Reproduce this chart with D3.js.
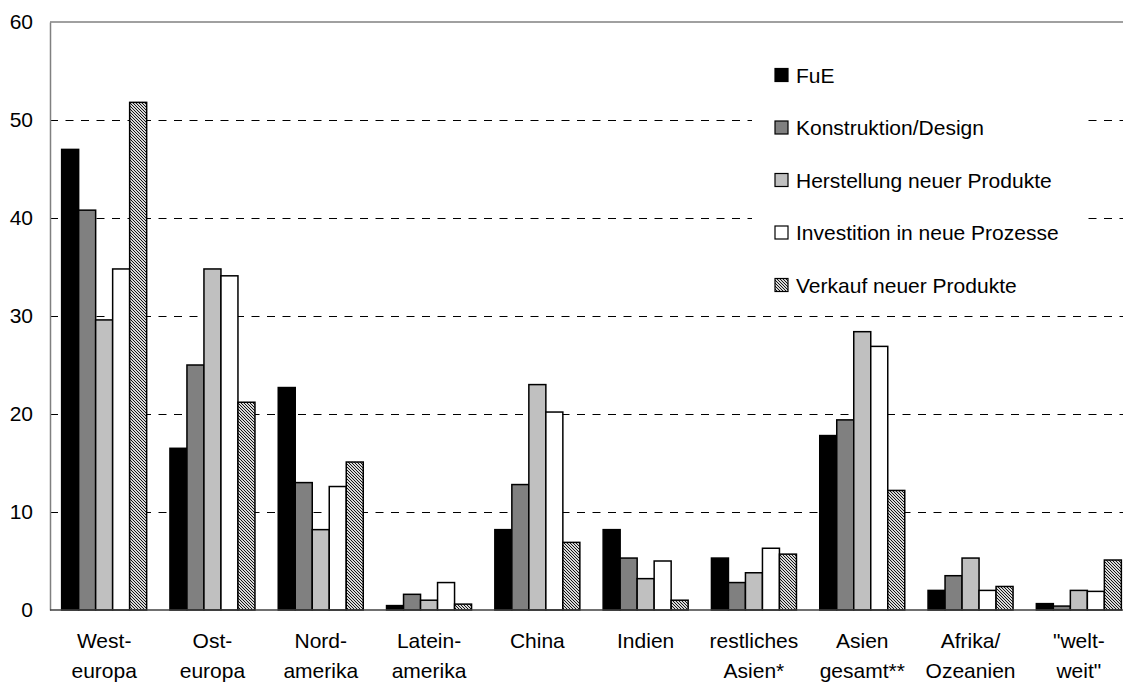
<!DOCTYPE html>
<html><head><meta charset="utf-8">
<script src="https://cdn.jsdelivr.net/npm/d3@7"></script>
<style>html,body{margin:0;padding:0;background:#fff;}svg{display:block;font-family:"Liberation Sans",Arial,sans-serif;}</style>
</head><body>
<svg id="c" width="1123" height="682"></svg>
<script>
const categories = [["West-","europa"],["Ost-","europa"],["Nord-","amerika"],["Latein-","amerika"],["China"],["Indien"],["restliches","Asien*"],["Asien","gesamt**"],["Afrika/","Ozeanien"],["\"welt-","weit\""]];
const seriesNames = ["FuE","Konstruktion/Design","Herstellung neuer Produkte","Investition in neue Prozesse","Verkauf neuer Produkte"];
const fue          = [47.0, 16.5, 22.7, 0.45, 8.2, 8.2, 5.3, 17.8, 2.0, 0.65];
const konstruktion = [40.8, 25.0, 13.0, 1.6, 12.8, 5.3, 2.8, 19.4, 3.5, 0.4];
const herstellung  = [29.6, 34.8, 8.2, 1.0, 23.0, 3.2, 3.8, 28.4, 5.3, 2.0];
const investition  = [34.8, 34.1, 12.6, 2.8, 20.2, 5.0, 6.3, 26.9, 2.0, 1.9];
const verkauf      = [51.8, 21.2, 15.1, 0.6, 6.9, 1.0, 5.7, 12.2, 2.4, 5.1];
const yTicks = [0,10,20,30,40,50,60];

const series = [fue, konstruktion, herstellung, investition, verkauf];
const fills = ["#000000","#808080","#c0c0c0","#ffffff","url(#hatch)"];

const svg = d3.select("#c");
const defs = svg.append("defs");
const pat = defs.append("pattern").attr("id","hatch").attr("patternUnits","userSpaceOnUse")
  .attr("width",3).attr("height",3);
pat.append("rect").attr("width",3).attr("height",3).attr("fill","#d8d8d8");
pat.append("path").attr("d","M-1,-1 L4,4 M-1,2 L1,4 M2,-1 L4,1").attr("stroke","#000").attr("stroke-width",0.9);

const L = 50, R = 1133, T = 22, B = 610;
const x0 = d3.scaleBand().domain(d3.range(categories.length)).range([L, R]).paddingInner(0.215).paddingOuter(0.1075);
const x1 = d3.scaleBand().domain(d3.range(series.length)).range([0, x0.bandwidth()]);
const y = d3.scaleLinear().domain([0,60]).range([B, T]);

// gridlines
svg.append("g").selectAll("line").data(yTicks.filter(d=>d>0 && d<60)).join("line")
  .attr("x1",L).attr("x2",1123).attr("y1",d=>Math.round(y(d))+0.5).attr("y2",d=>Math.round(y(d))+0.5)
  .attr("stroke","#000").attr("stroke-width",1).attr("stroke-dasharray","8,7.5");

// top border
svg.append("line").attr("x1",L).attr("x2",1123).attr("y1",y(60)).attr("y2",y(60)).attr("stroke","#808080").attr("stroke-width",1.5);

// legend background
svg.append("rect").attr("x",752).attr("y",48).attr("width",333).attr("height",258).attr("fill","#fff");

// bars
const g = svg.append("g");
categories.forEach((c,i)=>{
  series.forEach((s,j)=>{
    g.append("rect")
      .attr("x", x0(i)+x1(j)).attr("width", x1.bandwidth())
      .attr("y", y(s[i])).attr("height", y(0)-y(s[i]))
      .attr("fill", fills[j]).attr("stroke","#000").attr("stroke-width",1.5);
  });
});

// y axis
const yAxis = d3.axisLeft(y).tickValues(yTicks).tickSize(0).tickPadding(17);
const ya = svg.append("g").attr("transform",`translate(${L},0)`).call(yAxis);
ya.select(".domain").attr("stroke","#808080").attr("stroke-width",1.5);
ya.selectAll("text").attr("font-size",21).attr("fill","#000").attr("font-family","Liberation Sans, Arial, sans-serif");

// x axis line
svg.append("line").attr("x1",L).attr("x2",1123).attr("y1",B).attr("y2",B).attr("stroke","#404040").attr("stroke-width",1.5);

// x labels
const xl = svg.append("g");
categories.forEach((c,i)=>{
  const t = xl.append("text").attr("x", x0(i)+x0.bandwidth()/2).attr("y",648)
    .attr("text-anchor","middle").attr("font-size",21).attr("fill","#000");
  c.forEach((line,k)=>{
    t.append("tspan").attr("x", x0(i)+x0.bandwidth()/2).attr("y", 648 + k*30).text(line);
  });
});

// legend
const lg = svg.append("g");
seriesNames.forEach((n,j)=>{
  const cy = 75 + j*52.5;
  lg.append("rect").attr("x",775).attr("y",cy-6.5).attr("width",13).attr("height",13)
    .attr("fill",fills[j]).attr("stroke","#000").attr("stroke-width",1.2);
  lg.append("text").attr("x",796).attr("y",cy+7.5).attr("font-size",21).attr("fill","#000").text(n);
});
</script>
</body></html>
